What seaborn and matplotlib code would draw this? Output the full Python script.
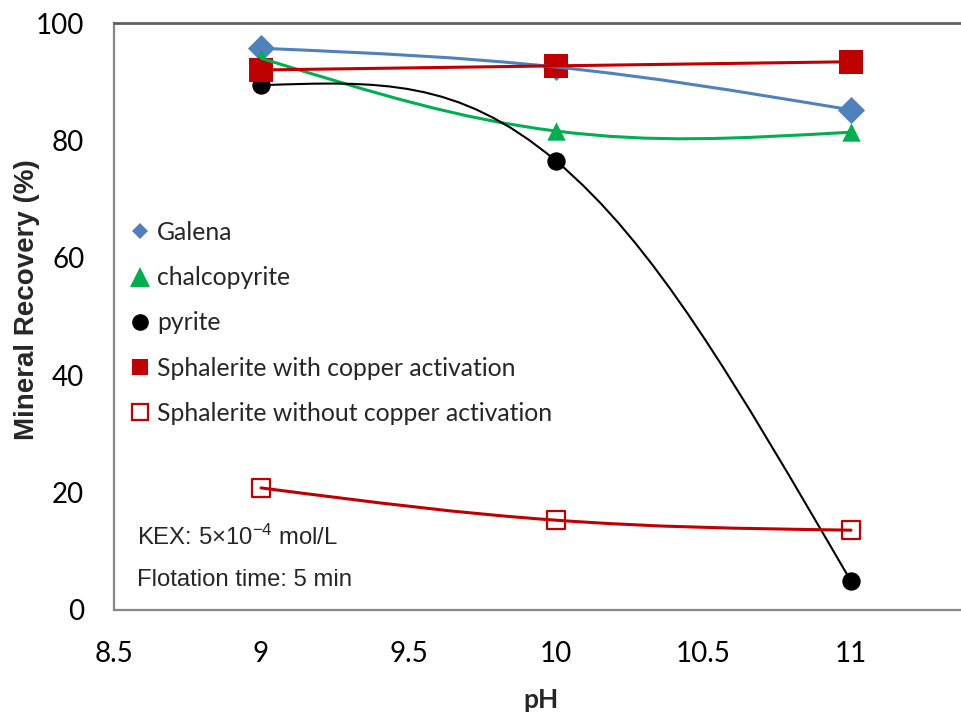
import numpy as np
import pandas as pd
import matplotlib
matplotlib.use("Agg")
import matplotlib.pyplot as plt
import seaborn as sns
from matplotlib.path import Path
from matplotlib.patches import PathPatch
from matplotlib.lines import Line2D

# ---------------- data ----------------
ph = [9, 10, 11]
galena = [95.7, 92.5, 85.2]
chalcopyrite = [94.0, 81.6, 81.4]
pyrite = [89.4, 76.5, 4.9]
sph_cu = [92.0, 92.7, 93.4]
sph_nocu = [20.8, 15.3, 13.6]
series_names = ["Galena", "chalcopyrite", "pyrite",
                "Sphalerite with copper activation",
                "Sphalerite without copper activation"]
x_ticks = [8.5, 9, 9.5, 10, 10.5, 11]
x_tick_labels = ["8.5", "9", "9.5", "10", "10.5", "11"]
y_ticks = [0, 20, 40, 60, 80, 100]
y_tick_labels = ["0", "20", "40", "60", "80", "100"]
notes = ["KEX: 5×10$^{-4}$ mol/L", "Flotation time: 5 min"]
x_label = "pH"
y_label = "Mineral Recovery (%)"

# ---------------- style ----------------
sns.set_theme(style="white")
plt.rcParams["font.family"] = ["Lato", "DejaVu Sans"]
plt.rcParams["mathtext.fontset"] = "custom"
plt.rcParams["mathtext.rm"] = "Liberation Sans"
plt.rcParams["mathtext.it"] = "Liberation Sans:italic"
plt.rcParams["mathtext.bf"] = "Liberation Sans:bold"

BLUE, GREEN, BLACK, RED = "#4F81BD", "#00B050", "#000000", "#C00000"

fig = plt.figure(figsize=(9.61, 7.15), dpi=100)
ax = fig.add_axes([113.5 / 961, 105 / 715, 885 / 961, 587 / 715])

df = pd.DataFrame({"pH": ph, "Galena": galena, "chalcopyrite": chalcopyrite,
                   "pyrite": pyrite, "sph_cu": sph_cu, "sph_nocu": sph_nocu})


def smooth_path(xs, ys, k=1 / 6, f=0.6):
    P = np.column_stack([xs, ys]).astype(float)
    n = len(P)
    verts = [P[0]]
    codes = [Path.MOVETO]
    for i in range(n - 1):
        p0, p1 = P[i], P[i + 1]
        c1 = p0 + k * (P[i + 1] - P[i - 1]) if i > 0 else None
        c2 = p1 - k * (P[i + 2] - P[i]) if i + 2 < n else None
        if c1 is None and c2 is None:
            c1, c2 = p0 + (p1 - p0) / 3, p1 - (p1 - p0) / 3
        elif c1 is None:
            c1 = p0 + f * (c2 - p0)
        elif c2 is None:
            c2 = p1 + f * (c1 - p1)
        verts += [c1, c2, p1]
        codes += [Path.CURVE4] * 3
    return Path(verts, codes)


specs = [
    ("Galena", BLUE, "D", 190, BLUE, BLUE, 0.0, 2.2),
    ("chalcopyrite", GREEN, "^", 175, GREEN, GREEN, 0.0, 2.2),
    ("pyrite", BLACK, "o", 175, BLACK, BLACK, 0.0, 1.5),
    ("sph_cu", RED, "s", 300, RED, RED, 0.0, 2.2),
    ("sph_nocu", RED, "s", 165, "white", RED, 1.6, 2.2),
]

# markers first, then smoothed lines above (as in the original)
for col, lc, mk, s, fc, ec, mew, lw in specs:
    sns.scatterplot(data=df, x="pH", y=col, marker=mk, s=s, color=fc,
                    edgecolor=ec, linewidth=mew, zorder=2, ax=ax, legend=False)
for col, lc, mk, s, fc, ec, mew, lw in specs:
    path = smooth_path(df["pH"], df[col])
    ax.add_patch(PathPatch(path, facecolor="none", edgecolor=lc, lw=lw,
                           zorder=3, capstyle="round"))

ax.set_xlim(8.5, 11.5)
ax.set_ylim(0, 100)
ax.set_xticks(x_ticks)
ax.set_xticklabels(x_tick_labels)
ax.set_yticks(y_ticks)
ax.set_yticklabels(y_tick_labels)
ax.tick_params(axis="both", length=0, labelsize=20, colors="black")
ax.tick_params(axis="y", pad=21)
ax.tick_params(axis="x", pad=22)
ax.grid(False)

for side in ["left", "bottom"]:
    ax.spines[side].set_color("#878787")
    ax.spines[side].set_linewidth(1.6)
ax.spines["top"].set_color("#606060")
ax.spines["top"].set_linewidth(2.0)
ax.spines["right"].set_visible(False)

ax.set_xlabel(x_label, fontsize=19, fontweight="bold", va="center")
ax.xaxis.set_label_coords((541 - 113.5) / 885, (610 - 700) / 587)
ax.set_ylabel(y_label, fontsize=20, fontweight="bold", va="center", ha="center",
              family=["Liberation Sans Narrow", "Liberation Sans"])
ax.yaxis.set_label_coords((27 - 113.5) / 885, (610 - 300) / 587)

handles = [
    Line2D([], [], ls="", marker="D", ms=8.5, color=BLUE, mew=0),
    Line2D([], [], ls="", marker="^", ms=14, color=GREEN, mew=0),
    Line2D([], [], ls="", marker="o", ms=12, color=BLACK, mew=0),
    Line2D([], [], ls="", marker="s", ms=12, color=RED, mew=0),
    Line2D([], [], ls="", marker="s", ms=11, markerfacecolor="white",
           markeredgecolor=RED, mew=1.6),
]
ax.legend(handles, series_names, loc="upper left",
          bbox_to_anchor=((131 - 113.5) / 885, (610 - 221) / 587),
          frameon=False, fontsize=17.8, handlelength=0.75, handletextpad=0.3,
          labelspacing=0.9, borderpad=0, borderaxespad=0)

ax.text((137 - 113.5) / 885, (610 - 545) / 587, notes[0], transform=ax.transAxes,
        fontsize=17.2, family="Liberation Sans", va="baseline", ha="left")
ax.text((137 - 113.5) / 885, (610 - 586) / 587, notes[1], transform=ax.transAxes,
        fontsize=17.2, family="Liberation Sans", va="baseline", ha="left")

fig.savefig("out.png", dpi=100)
